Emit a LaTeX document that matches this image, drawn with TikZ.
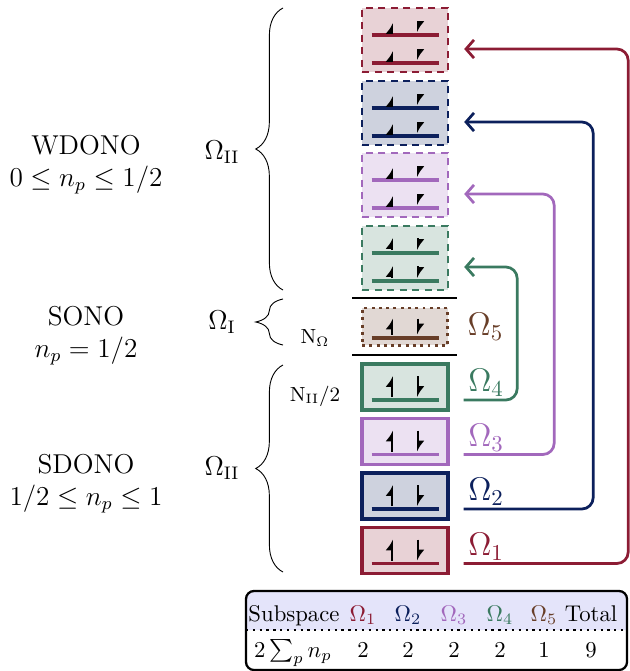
\documentclass[tikz,border=0pt]{standalone}
\usepackage{amsmath}
\usetikzlibrary{positioning,calc,arrows.meta,decorations.pathreplacing}
\definecolor{OmRed}{RGB}{140,28,52}
\definecolor{OmBlue}{RGB}{12,32,92}
\definecolor{OmPurple}{RGB}{162,104,188}
\definecolor{OmGreen}{RGB}{58,122,96}
\definecolor{OmBrown}{RGB}{104,62,40}
\definecolor{TabHead}{RGB}{228,228,250}
\tikzset{>={Straight Barb[length=3.5pt,width=8pt]}}
\tikzset{mybox/.style={draw=#1,fill=#1!20,line width=1.5pt,minimum width=37.8pt,inner sep=0pt}}
\tikzset{wdono/.style={mybox=#1,line width=1.1pt,dash pattern=on 3.2pt off 2.3pt,minimum height=28.2pt}}
\tikzset{sono/.style={mybox=#1,line width=1.3pt,dash pattern=on 1.3pt off 1.9pt,minimum height=16.3pt}}
\tikzset{sdono/.style={mybox=#1,minimum height=20.2pt}}
\tikzset{mylevel/.style={#1,line width=1.5pt}}
\tikzset{myspin/.style={-{Latex[harpoon,length=4pt,width=6pt]},line width=1.2pt}}
\tikzset{mylink/.style={->,#1,line width=1.2pt,rounded corners=5pt}}
\tikzset{mybrace/.style={decorate,decoration={brace,amplitude=12pt}}}

\begin{document}
\begin{tikzpicture}[x=0.44pt,y=-0.44pt]
        \useasboundingbox (0,0) rectangle (629,671);
        % weakly doubly occupied
        \foreach \n/\c/\y/\s in {w1/OmRed/40/9, w2/OmBlue/113/9, w3/OmPurple/185/9, w4/OmGreen/258/12}{
            \node[wdono=\c] (\n) at (405,\y) {};
            \foreach \l in {-5,23}{
                \draw[mylevel=\c] ($(\n.center)+(-33.5,\l)$) -- ++(67,0);
                \draw[myspin] ($(\n.center)+(-13,\l-3)$) -- ++(0,-\s);
                \draw[myspin] ($(\n.center)+(13,\l-3-\s)$) -- ++(0,\s);
            }
            \coordinate (t\n) at ($(\n.east)+(15,9)$);
        }
        % singly occupied
        \node[sono=OmBrown] (d5) at (405,326.5) {};
        \draw[mylevel=OmBrown] ($(d5.center)+(-33.5,11.5)$) -- ++(67,0);
        \draw[myspin] ($(d5.center)+(-13,8)$) -- ++(0,-16);
        \draw[myspin] ($(d5.center)+(13,-8)$) -- ++(0,16);
        \node[right=4.5pt of d5, font=\Large, text=OmBrown] (o5) {$\Omega_5$};
        \coordinate (l1a) at (352,298);
        \coordinate (l1b) at (457,298);
        \coordinate (l2a) at (352,355);
        \coordinate (l2b) at (457,355);
        \draw[thick] (l1a) -- (l1b);
        \draw[thick] (l2a) -- (l2b);
        % strongly doubly occupied
        \foreach \n/\c/\y/\i in {r4/OmGreen/387/4, r3/OmPurple/441.5/3, r2/OmBlue/496/2, r1/OmRed/550.5/1}{
            \node[sdono=\c] (\n) at (405,\y) {};
            \draw[mylevel=\c] ($(\n.center)+(-33.5,13)$) -- ++(67,0);
            \draw[myspin] ($(\n.center)+(-13,10)$) -- ++(0,-21);
            \draw[myspin] ($(\n.center)+(13,-11)$) -- ++(0,21);
            \coordinate (s\n) at ($(\n.east)+(14,13)$);
            \node[above right=-2pt and -1.5pt of s\n, font=\Large, text=\c] (o\i) {$\Omega_\i$};
        }
        \foreach \a/\b/\c/\dx in {r1/w1/OmRed/164, r2/w2/OmBlue/129, r3/w3/OmPurple/90, r4/w4/OmGreen/53}{
            \draw[mylink=\c] (s\a) -| ($(t\b)+(\dx,0)$) -- (t\b);
        }
        % braces and labels
        \coordinate (b1) at (283,290);
        \coordinate (b2) at (283,8);
        \coordinate (b3) at (283,345);
        \coordinate (b4) at (283,299);
        \coordinate (b5) at (283,572);
        \coordinate (b6) at (283,365);
        \draw[mybrace] (b1) -- (b2);
        \draw[mybrace] (b3) -- (b4);
        \draw[mybrace] (b5) -- (b6);
        \node[font=\large] (g1) at (222,152) {$\Omega_{\mathrm{II}}$};
        \node[font=\large] (g2) at (222,322) {$\Omega_{\mathrm{I}}$};
        \node[font=\large] (g3) at (222,468) {$\Omega_{\mathrm{II}}$};
        \node[font=\large, align=center] (wd) at (86,165) {WDONO\\$0\le n_p\le 1/2$};
        \node[font=\large, align=center] (so) at (86,336) {SONO\\$n_p=1/2$};
        \node[font=\large, align=center] (sd) at (86,484) {SDONO\\$1/2\le n_p\le 1$};
        \node[font=\small] (n1) at (315,338) {$\mathrm{N}_\Omega$};
        \node[font=\small] (n2) at (315,396) {$\mathrm{N}_{\mathrm{II}}/2$};
        % table
        \fill[TabHead, rounded corners=3.5pt] (246,630) -- (246,591) -- (627,591) -- (627,630);
        \draw[dotted, line width=1pt] (246,630) -- (627,630);
        \draw[line width=1pt, rounded corners=3.5pt] (246,591) rectangle (627,670);
        \node[anchor=base, inner sep=1pt] (hs) at (294,621) {Subspace};
        \node[anchor=base, inner sep=1pt] (vs) at (293,657) {$2\sum_p n_p$};
        \foreach \i/\x/\c/\v in {1/363/OmRed/2, 2/408/OmBlue/2, 3/454/OmPurple/2, 4/500/OmGreen/2, 5/544/OmBrown/1}{
            \node[anchor=base, inner sep=1pt, text=\c] (h\i) at (\x,621) {$\Omega_\i$};
            \node[anchor=base, inner sep=1pt] (v\i) at (\x,657) {$\v$};
        }
        \node[anchor=base, inner sep=1pt] (ht) at (591,621) {Total};
        \node[anchor=base, inner sep=1pt] (vt) at (591,657) {$9$};
    \end{tikzpicture}
\end{document}
